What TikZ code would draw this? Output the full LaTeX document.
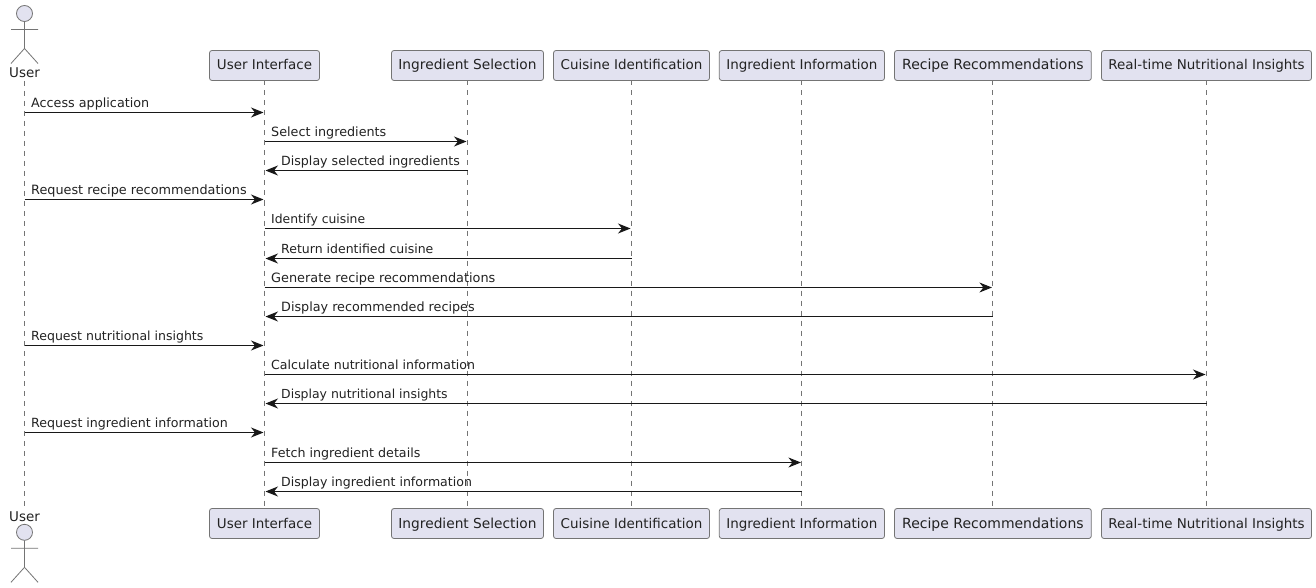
\documentclass[tikz,border=0pt]{standalone}
\usepackage{fontspec}
\setmainfont{DejaVu Sans}
\usetikzlibrary{arrows.meta,calc}
\definecolor{boxfill}{HTML}{E2E2F0}
\definecolor{ink}{HTML}{181818}
\definecolor{thin}{HTML}{747474}
\definecolor{lbl}{HTML}{222222}
\tikzset{
  x=1pt,y=-1pt,
  partbox/.style={draw=thin,line width=0.8pt,fill=boxfill,rounded corners=2.5pt,inner sep=0pt,text=lbl,anchor=center,text height=10pt,text depth=1pt},
  actorlabel/.style={inner sep=0pt,font=\fontsize{13.45}{16}\selectfont,text=lbl,anchor=base},
  actorline/.style={draw=thin,line width=0.8pt,fill=boxfill},
  lifeline/.style={draw=thin,line width=0.7pt,dash pattern=on 5pt off 5pt},
  msgline/.style={draw=ink,line width=1pt,-{Stealth[length=12.5pt,width=10pt,inset=4pt]},shorten >=1pt},
  msgtext/.style={inner sep=0pt,anchor=base west,text=lbl},
}
\newcommand{\partbox}[6]{% name, bottom name, x0, x1, font size, text
  \node[partbox,font=\fontsize{#5}{16}\selectfont,minimum width=#4pt-#3pt,minimum height=30pt] (#1) at ({(#3+#4)/2},65.5) {#6};
  \node[partbox,font=\fontsize{#5}{16}\selectfont,minimum width=#4pt-#3pt,minimum height=30pt] (#2) at ({(#3+#4)/2},523.5) {#6};
}
\newcommand{\msgright}[6]{% label name, from, to, y, font size, text
  \draw[msgline] (#2 |- 0,#4) -- (#3 |- 0,#4);
  \node[msgtext,font=\fontsize{#5}{15}\selectfont] (#1) at ($(#2 |- 0,#4)+(6.5,-5)$) {#6};
}
\newcommand{\msgleft}[6]{% label name, from, to, y, font size, text
  \draw[msgline] (#2 |- 0,#4) -- (#3 |- 0,#4);
  \node[msgtext,font=\fontsize{#5}{15}\selectfont] (#1) at ($(#3 |- 0,#4)+(16.5,-5)$) {#6};
}
\newcommand{\stickman}[2]{% x, head centre y
  \draw[actorline] (#1,#2) circle (8pt);
  \draw[actorline,fill=none] (#1,#2+8) -- (#1,#2+35) (#1-13.5,#2+16) -- (#1+13.5,#2+16)
     (#1-13.5,#2+50) -- (#1,#2+35) -- (#1+13.5,#2+50);
}
\begin{document}
\begin{tikzpicture}
\path[use as bounding box,fill=white] (0,0) rectangle (1316,588);
\node[actorlabel] (user) at (24.5,77.5) {User};
\node[actorlabel] (userb) at (24.5,521) {User};
\draw[lifeline] (user.south |- 0,81) -- (userb.north |- 0,507);
\foreach \a/\x in {ui/264.5,sel/467.5,cui/631.5,inf/801.3,rec/992.5,nut/1206.5}{
  \coordinate (\a t) at (\x,80.5);
  \coordinate (\a l) at (\x,508.5);
  \draw[lifeline] (\a t) -- (\a l);
}
\partbox{ui}{uib}{209.5}{319.5}{13.45}{User Interface}
\partbox{sel}{selb}{391.5}{543.5}{13.75}{Ingredient Selection}
\partbox{cui}{cuib}{553.5}{709.5}{13.45}{Cuisine Identification}
\partbox{inf}{infb}{719.3}{884.5}{13.45}{Ingredient Information}
\partbox{rec}{recb}{894.5}{1091.3}{13.99}{Recipe Recommendations}
\partbox{nut}{nutb}{1101.5}{1311.5}{13.45}{Real-time Nutritional Insights}
\stickman{24.5}{13.5}
\stickman{24.5}{532.3}
\msgright{m1}{user}{ui}{112.5}{12.75}{Access application}
\msgright{m2}{ui}{sel}{141.5}{12.75}{Select ingredients}
\msgleft{m3}{sel}{ui}{170.5}{12.61}{Display selected ingredients}
\msgright{m4}{user}{ui}{199.5}{12.81}{Request recipe recommendations}
\msgright{m5}{ui}{cui}{228.5}{12.36}{Identify cuisine}
\msgleft{m6}{cui}{ui}{258.5}{12.5}{Return identified cuisine}
\msgright{m7}{ui}{rec}{287.5}{12.86}{Generate recipe recommendations}
\msgleft{m8}{rec}{ui}{316.5}{12.75}{Display recommended recipes}
\msgright{m9}{user}{ui}{345.5}{12.53}{Request nutritional insights}
\msgright{m10}{ui}{nut}{374.5}{12.56}{Calculate nutritional information}
\msgleft{m11}{nut}{ui}{403.5}{12.45}{Display nutritional insights}
\msgright{m12}{user}{ui}{432.5}{12.62}{Request ingredient information}
\msgright{m13}{ui}{inf}{462.5}{12.66}{Fetch ingredient details}
\msgleft{m14}{inf}{ui}{491.5}{12.55}{Display ingredient information}
\end{tikzpicture}
\end{document}
